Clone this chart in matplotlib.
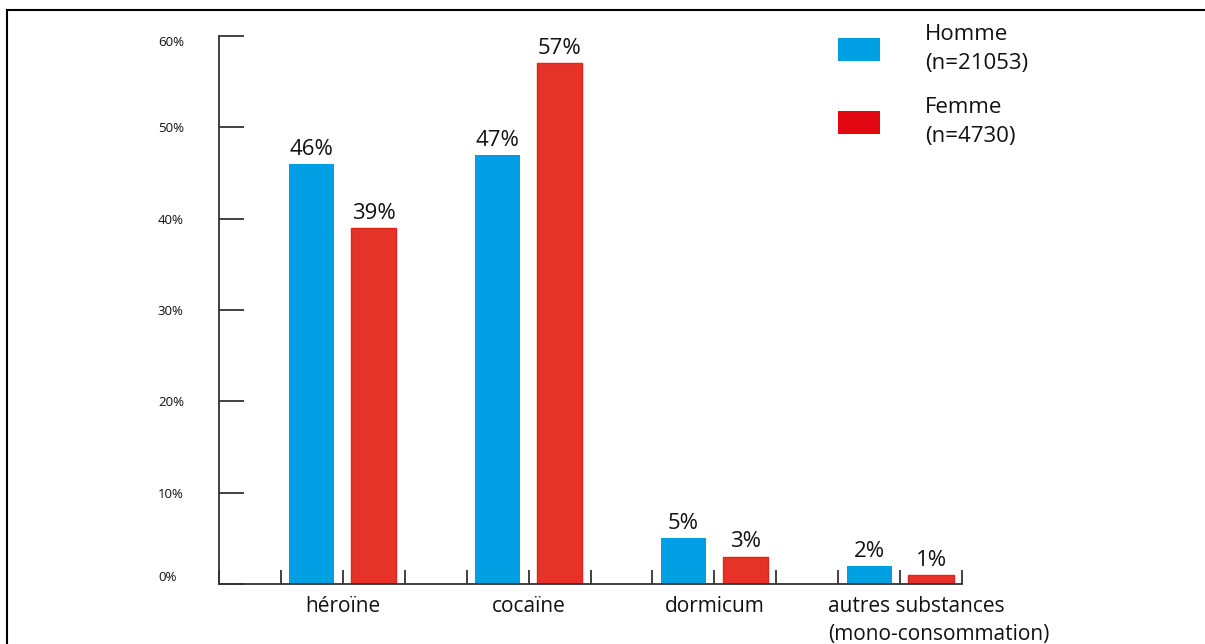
import matplotlib.pyplot as plt
from matplotlib.lines import Line2D
from matplotlib.patches import Patch
from matplotlib.transforms import ScaledTranslation

plt.rcParams['font.family'] = ['Open Sans', 'DejaVu Sans']

categories = ['héroïne', 'cocaïne', 'dormicum', 'autres substances\n(mono-consommation)']
homme = [46, 47, 5, 2]
femme = [39, 57, 3, 1]
series_names = ['Homme\n(n=21053)', 'Femme\n(n=4730)']
yticks = [0, 10, 20, 30, 40, 50, 60]

BLUE = '#009FE3'
RED = '#E6332A'
RED_EDGE = '#E2231A'
AXIS = '#333333'
TXT = '#111111'

fig = plt.figure(figsize=(12.05, 6.44), dpi=100)
ax = fig.add_axes([219/1205, 60/644, 743/1205, 548/644])

# group layout: 3 units per group, blue at 1.5, red at 2.5
centers = [3*i + 2 for i in range(len(categories))]
xb = [c - 0.5 for c in centers]
xr = [c + 0.5 for c in centers]
w = 0.73
bars_h = ax.bar(xb, homme, width=w, color=BLUE, linewidth=0)
bars_f = ax.bar(xr, femme, width=w, color=RED, edgecolor=RED_EDGE, linewidth=1)

for bars, vals in ((bars_h, homme), (bars_f, femme)):
    for b, v in zip(bars, vals):
        ax.annotate(f'{v}%', (b.get_x() + b.get_width()/2, v), xytext=(0, 3),
                    textcoords='offset points', ha='center', va='bottom',
                    fontsize=16, color=TXT)

ax.set_xlim(0, 12)
ax.set_ylim(0, 60)

for s in ('top', 'right'):
    ax.spines[s].set_visible(False)
for s in ('left', 'bottom'):
    ax.spines[s].set_color(AXIS)
    ax.spines[s].set_linewidth(1.3)

# small ticks along x axis (major ones carry the labels)
ax.set_xticks([t for t in range(0, 13) if t not in centers], minor=True)
ax.set_xticks(centers)
ax.set_xticklabels(categories, fontsize=15, color=TXT, linespacing=1.4)
ax.tick_params(axis='x', which='both', direction='in', length=10, width=1.3, color=AXIS)
ax.tick_params(axis='x', which='major', pad=9)
last = ax.get_xticklabels()[-1]
last.set_ha('left')
last.set_multialignment('left')
last.set_transform(last.get_transform() + ScaledTranslation(-0.72, 0, fig.dpi_scale_trans))

ax.set_yticks(yticks)
ax.set_yticklabels([f'{t}%' for t in yticks], fontsize=9.5, color=TXT)
ax.tick_params(axis='y', direction='in', length=18, width=1.3, color=AXIS, pad=44)
ylabs = ax.get_yticklabels()
for lb in ylabs:
    lb.set_ha('left')
ylabs[0].set_va('bottom')
ylabs[-1].set_va('top')

handles = [Patch(facecolor=BLUE), Patch(facecolor='#E30613')]
leg = fig.legend(handles, series_names, loc='upper left', bbox_to_anchor=(818/1205, 1 - 4/644),
                 frameon=False, fontsize=16, handlelength=1.9, handleheight=1.2,
                 handletextpad=2.0, labelspacing=1.05)
for t in leg.get_texts():
    t.set_linespacing(1.5)
    t.set_color(TXT)

# outer frame (top and left only)
fig.add_artist(Line2D([7/1205, 1], [1 - 10/644, 1 - 10/644], color='black', lw=1.5))
fig.add_artist(Line2D([7/1205, 7/1205], [0, 1 - 10/644], color='black', lw=1.5))

fig.savefig('out.png', dpi=100)
